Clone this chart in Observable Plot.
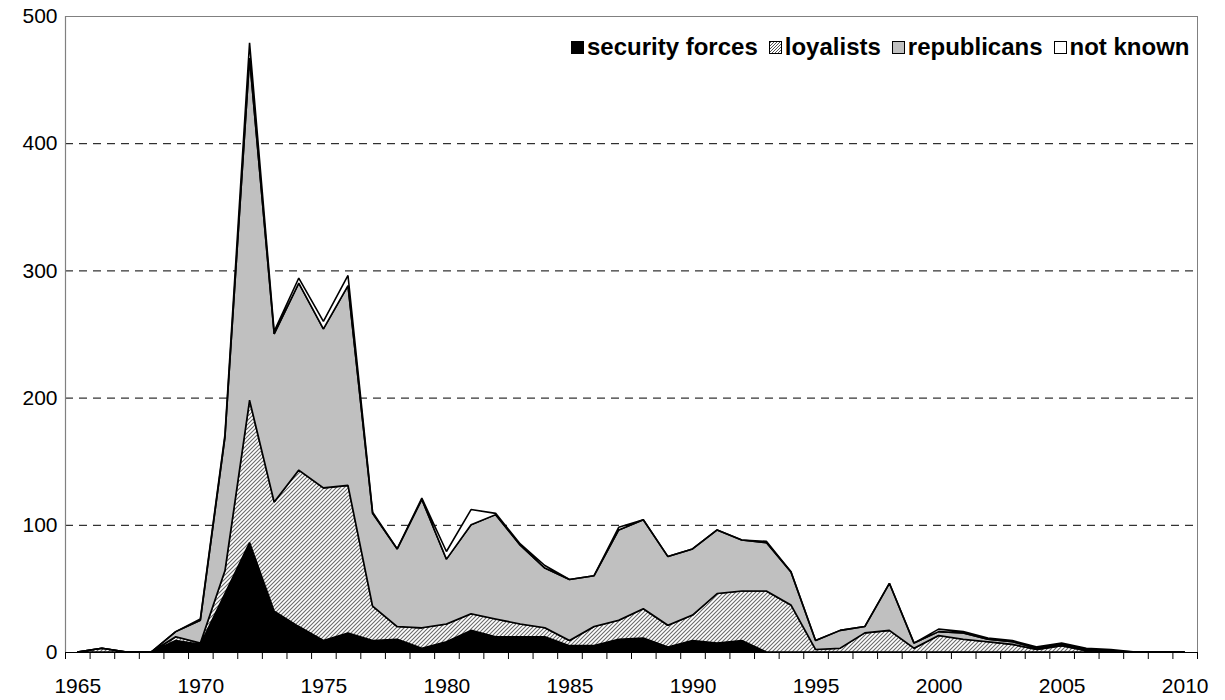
<!DOCTYPE html>
<html><head><meta charset="utf-8">
<script src="https://cdn.jsdelivr.net/npm/d3@7"></script>
<script src="https://cdn.jsdelivr.net/npm/@observablehq/plot@0.6"></script>
<style>
body{margin:0;background:#fff;font-family:"Liberation Sans",Arial,sans-serif}
#wrap{position:relative;width:1225px;height:700px}
#legend{position:absolute;left:571px;top:33px;display:flex;align-items:center;font-weight:bold;font-size:24px;color:#000;white-space:nowrap}
#legend .it{display:flex;align-items:center;margin-right:11px}
#legend svg{margin-right:3px}
</style>
</head><body><div id="wrap"></div>
<script>
const years = d3.range(1965, 2011);
const seriesNames = ["security forces", "loyalists", "republicans", "not known"];
const securityForces = [0,0,0,0,9,6,46,86,32,20,9,15,9,10,3,8,17,12,12,12,5,5,10,11,4,9,7,9,0,0,0,0,0,0,0,0,0,0,0,0,0,0,0,0,0,0];
const loyalists      = [0,3,0,0,3,1,18,112,86,123,120,116,27,10,16,14,13,14,10,7,4,15,15,23,17,20,39,39,48,37,2,3,15,17,3,13,10,8,6,2,5,1,0,0,0,0];
const republicans    = [0,0,0,0,4,18,105,269,132,147,125,157,73,61,101,51,70,82,62,47,48,40,71,70,54,52,50,40,38,26,7,14,5,37,4,3,5,2,2,1,1,1,1,0,0,0];
const notKnown       = [0,0,0,0,0,1,2,12,2,4,6,8,1,0,1,6,12,1,1,2,0,0,2,0,0,0,0,0,1,0,0,0,0,0,0,2,1,1,1,1,1,1,1,0,0,0];
const yTicks = [0,100,200,300,400,500];
const xLabels = [1965,1970,1975,1980,1985,1990,1995,2000,2005,2010];

const seriesValues = [securityForces, loyalists, republicans, notKnown];
const tidy = [];
seriesNames.forEach((s, i) => years.forEach((y, j) => tidy.push({year: y, series: s, value: seriesValues[i][j]})));
const halfYears = d3.range(1964.5, 2011, 1);

const svg = Plot.plot({
  width: 1225, height: 700,
  marginLeft: 65, marginRight: 28, marginTop: 16, marginBottom: 48,
  style: {fontFamily: "Liberation Sans, Arial, sans-serif", fontSize: "21px", color: "#000", background: "#fff", overflow: "visible"},
  x: {domain: [1964.5, 2010.5]},
  y: {domain: [0, 500]},
  color: {domain: seriesNames, range: ["#000", "url(#hatch)", "#c0c0c0", "#fff"]},
  marks: [
    Plot.ruleY([100,200,300,400], {stroke: "#000", strokeWidth: 1, strokeDasharray: "8,6"}),
    Plot.ruleY([500], {stroke: "#808080"}),
    Plot.ruleX([2010.5], {stroke: "#808080"}),
    Plot.areaY(tidy, {x: "year", y: "value", z: "series", fill: "series", order: seriesNames, stroke: "#000", strokeWidth: 1.6, strokeLinejoin: "miter"}),
    Plot.ruleX([1964.5], {stroke: "#808080", strokeWidth: 1.2}),
    Plot.ruleY([0], {stroke: "#000", strokeWidth: 1.2}),
    Plot.axisY({ticks: yTicks, tickSize: 0, tickPadding: 8, label: null, fontSize: 21}),
    Plot.axisX({ticks: halfYears, tickSize: 7, tickFormat: () => "", label: null}),
    Plot.axisX({ticks: xLabels, tickSize: 0, tickPadding: 26, tickFormat: d => String(d), label: null, fontSize: 21})
  ]
});

const defs = d3.select(svg).insert("defs", ":first-child");
const pat = defs.append("pattern").attr("id", "hatch").attr("patternUnits", "userSpaceOnUse").attr("width", 4).attr("height", 4);
pat.append("rect").attr("width", 4).attr("height", 4).attr("fill", "#fff");
pat.append("path").attr("d", "M-1,1 l2,-2 M0,4 l4,-4 M3,5 l2,-2").attr("stroke", "#6a6a6a").attr("stroke-width", 1.1);

const wrap = document.getElementById("wrap");
wrap.appendChild(svg);

const legend = document.createElement("div");
legend.id = "legend";
const icons = {
  "security forces": '<rect x="0.5" y="0.5" width="12" height="12" fill="#000" stroke="#000"/>',
  "loyalists": '<defs><pattern id="hatch2" patternUnits="userSpaceOnUse" width="3" height="3"><rect width="3" height="3" fill="#fff"/><path d="M-1,1 l2,-2 M0,3 l3,-3 M2,4 l2,-2" stroke="#555" stroke-width="1"/></pattern></defs><rect x="0.5" y="0.5" width="12" height="12" fill="url(#hatch2)" stroke="#000"/>',
  "republicans": '<rect x="0.5" y="0.5" width="12" height="12" fill="#c0c0c0" stroke="#000"/>',
  "not known": '<rect x="0.5" y="0.5" width="12" height="12" fill="#fff" stroke="#000"/>'
};
seriesNames.forEach(s => {
  const it = document.createElement("span");
  it.className = "it";
  it.innerHTML = '<svg width="13" height="13">' + icons[s] + '</svg><span>' + s + '</span>';
  legend.appendChild(it);
});
wrap.appendChild(legend);
</script>
</body></html>
